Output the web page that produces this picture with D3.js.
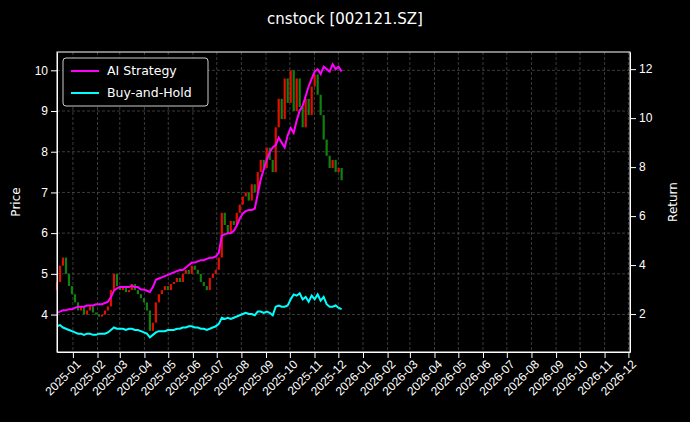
<!DOCTYPE html>
<html>
<head>
<meta charset="utf-8">
<script src="https://cdn.jsdelivr.net/npm/d3@7"></script>
<style>
  body { margin: 0; background: #000; }
  svg { display: block; font-family: "DejaVu Sans", sans-serif; }
  .axis text { fill: #fff; font-size: 12px; }
  .axis path, .axis line { stroke: #fff; }
  .grid line { stroke: #555; stroke-dasharray: 3 2; stroke-width: 0.7; }
</style>
</head>
<body>
<svg id="chart" width="690" height="422"></svg>
<script>
  // sampled every ~3.77 calendar days from 2024-12-12
  var closes = [4.8,5.2,5.4,5.0,4.7,4.5,4.3,4.1,4.2,4.0,4.1,4.2,4.05,4.0,3.95,4.0,4.1,4.2,4.6,5.0,
    4.7,4.6,4.7,4.55,4.6,4.75,4.6,4.5,4.4,4.3,4.1,3.6,3.8,4.3,4.5,4.6,4.7,4.6,4.75,4.8,
    4.9,4.8,5.0,5.1,5.0,5.2,5.1,5.0,4.8,4.7,4.6,4.9,5.0,5.1,5.4,6.5,6.2,6.0,6.3,6.2,
    6.5,6.7,6.9,7.0,6.8,7.2,7.0,7.5,7.8,7.6,8.1,7.8,7.5,8.6,9.3,8.8,9.8,9.2,10.0,9.0,
    9.8,9.1,8.6,9.3,8.9,9.6,9.9,9.4,8.9,8.3,7.9,7.6,7.8,7.5,7.6,7.3];
  var firstOpen = 4.6;
  var strategy = [2.05,2.1,2.15,2.15,2.2,2.2,2.25,2.3,2.3,2.3,2.35,2.35,2.35,2.4,2.4,2.4,2.45,2.5,2.7,2.95,
    3.05,3.1,3.1,3.1,3.1,3.15,3.1,3.1,3.0,3.0,2.95,2.9,3.1,3.4,3.45,3.5,3.55,3.6,3.65,3.7,
    3.75,3.8,3.8,3.9,4.0,4.1,4.1,4.15,4.2,4.2,4.25,4.3,4.3,4.35,4.5,5.2,5.25,5.3,5.3,5.4,
    5.6,5.9,6.1,6.2,6.25,6.25,6.3,6.9,7.5,7.9,8.3,8.6,8.8,8.9,9.2,9.0,8.8,9.3,9.6,9.4,
    9.9,10.3,10.5,10.9,11.3,11.6,11.9,12.0,11.8,12.1,12.0,11.9,12.2,12.0,12.1,11.9];
  var buyHold = [1.5,1.55,1.45,1.4,1.35,1.3,1.25,1.2,1.2,1.15,1.2,1.2,1.15,1.15,1.2,1.2,1.2,1.25,1.35,1.45,
    1.4,1.4,1.4,1.35,1.4,1.4,1.35,1.35,1.3,1.25,1.2,1.05,1.15,1.25,1.3,1.3,1.3,1.35,1.35,1.35,
    1.4,1.4,1.45,1.45,1.5,1.5,1.45,1.45,1.4,1.4,1.35,1.4,1.45,1.5,1.6,1.85,1.8,1.85,1.8,1.85,
    1.9,1.95,2.0,2.05,2.0,2.0,1.95,2.1,2.1,2.05,2.1,2.05,1.95,2.3,2.35,2.3,2.3,2.35,2.6,2.8,
    2.75,2.85,2.6,2.7,2.5,2.75,2.6,2.8,2.55,2.7,2.4,2.3,2.3,2.35,2.25,2.2];
  var priceTicks = [4, 5, 6, 7, 8, 9, 10];
  var returnTicks = [2, 4, 6, 8, 10, 12];
  var legendLabels = ["AI Strategy", "Buy-and-Hold"];
  var lineColors = ["#ff00ff", "#00ffff"];

  var start = new Date(2024, 11, 12);
  var dates = closes.map(function(c, i) { return new Date(start.getTime() + i * 3.77 * 864e5); });
  var candles = closes.map(function(c, i) {
    return { date: dates[i], open: i === 0 ? firstOpen : closes[i - 1], close: c };
  });

  var svg = d3.select("#chart");
  var margin = { left: 57, right: 60, top: 52, bottom: 70 };
  var width = 690 - margin.left - margin.right, height = 422 - margin.top - margin.bottom;

  var x = d3.scaleTime().domain([new Date(2024, 11, 12), new Date(2026, 11, 3)]).range([0, width]);
  var yPrice = d3.scaleLinear().domain([3.08, 10.45]).range([height, 0]);
  var yRet = d3.scaleLinear().domain([0.45, 12.7]).range([height, 0]);

  svg.append("text").attr("x", 345).attr("y", 24).attr("text-anchor", "middle")
    .attr("fill", "#fff").style("font-size", "15px").text("cnstock [002121.SZ]");

  var g = svg.append("g").attr("transform", "translate(" + margin.left + "," + margin.top + ")");

  var months = d3.timeMonth.range(new Date(2025, 0, 1), new Date(2026, 11, 2));
  g.append("g").attr("class", "grid").selectAll("line").data(months).join("line")
    .attr("x1", d => x(d)).attr("x2", d => x(d)).attr("y1", 0).attr("y2", height);
  g.append("g").attr("class", "grid").selectAll("line").data(priceTicks).join("line")
    .attr("x1", 0).attr("x2", width).attr("y1", d => yPrice(d)).attr("y2", d => yPrice(d));

  // candles
  g.append("g").selectAll("rect").data(candles).join("rect")
    .attr("x", d => x(d.date) - 1.1).attr("width", 2.2)
    .attr("y", d => yPrice(Math.max(d.open, d.close)))
    .attr("height", d => Math.max(1, Math.abs(yPrice(d.open) - yPrice(d.close))))
    .attr("fill", d => d.close >= d.open ? "#e01000" : "#108010");

  [strategy, buyHold].forEach(function(series, k) {
    g.append("path").datum(series)
      .attr("fill", "none").attr("stroke", lineColors[k]).attr("stroke-width", 2)
      .attr("d", d3.line().x((d, i) => x(dates[i])).y(d => yRet(d)));
  });

  var xAxis = g.append("g").attr("class", "axis").attr("transform", "translate(0," + height + ")")
    .call(d3.axisBottom(x).tickValues(months).tickFormat(d3.timeFormat("%Y-%m")).tickSizeOuter(0));
  xAxis.selectAll("text").attr("text-anchor", "end").attr("dx", "-0.3em").attr("dy", "0.5em")
    .attr("transform", "rotate(-45)");
  g.append("g").attr("class", "axis").call(d3.axisLeft(yPrice).tickValues(priceTicks).tickSizeOuter(0));
  g.append("g").attr("class", "axis").attr("transform", "translate(" + width + ",0)")
    .call(d3.axisRight(yRet).tickValues(returnTicks).tickSizeOuter(0));
  g.append("rect").attr("width", width).attr("height", height).attr("fill", "none").attr("stroke", "#fff");

  svg.append("text").attr("transform", "translate(20," + (margin.top + height / 2) + ") rotate(-90)")
    .attr("text-anchor", "middle").attr("fill", "#fff").style("font-size", "12px").text("Price");
  svg.append("text").attr("transform", "translate(677," + (margin.top + height / 2) + ") rotate(-90)")
    .attr("text-anchor", "middle").attr("fill", "#fff").style("font-size", "12px").text("Return");

  var lg = g.append("g").attr("transform", "translate(6,6)");
  lg.append("rect").attr("width", 145).attr("height", 48).attr("rx", 3)
    .attr("fill", "#000").attr("stroke", "#ccc");
  legendLabels.forEach(function(t, k) {
    lg.append("line").attr("x1", 8).attr("x2", 36).attr("y1", 13 + k * 22).attr("y2", 13 + k * 22)
      .attr("stroke", lineColors[k]).attr("stroke-width", 2);
    lg.append("text").attr("x", 44).attr("y", 17 + k * 22).attr("fill", "#fff")
      .style("font-size", "12.5px").text(t);
  });
</script>
</body>
</html>
